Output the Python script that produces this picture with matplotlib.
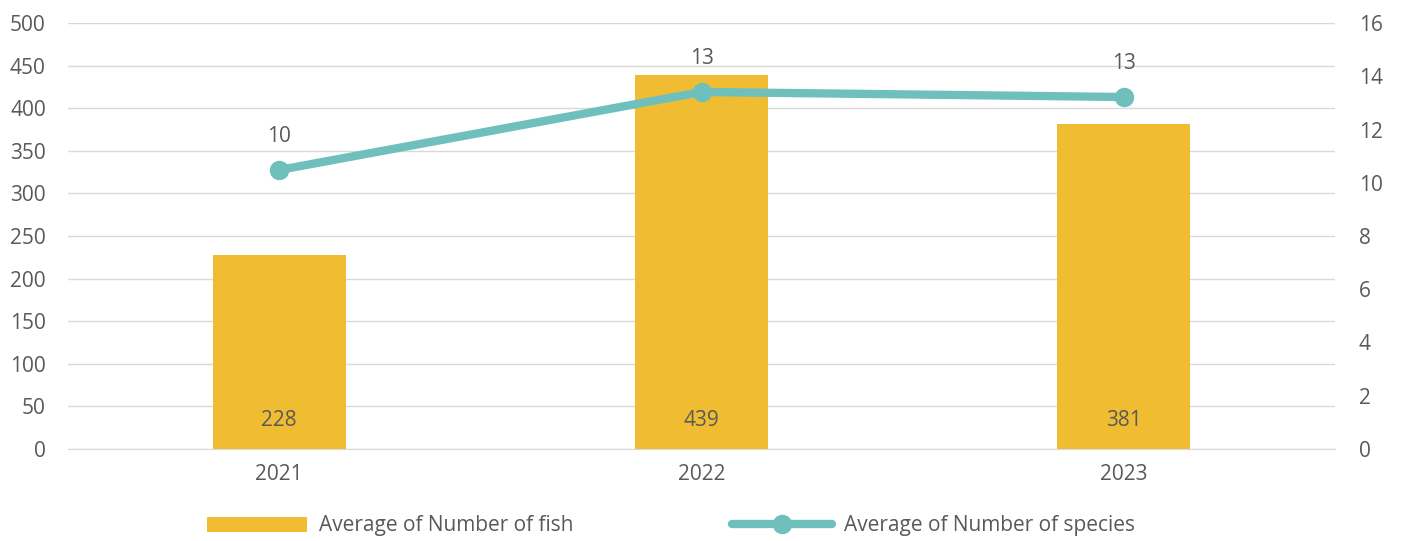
import matplotlib.pyplot as plt
import numpy as np

# datos
anios = ['2021', '2022', '2023']
promedio_peces = [228, 439, 381]
promedio_especies = [10.48, 13.41, 13.22]

plt.rcParams['font.family'] = ['Open Sans', 'DejaVu Sans']
gris = '#595959'
tam = 15

fig = plt.figure(figsize=(14.01, 5.41), dpi=100)
ax = fig.add_axes([68 / 1401, 1 - 449 / 541, 1267 / 1401, 426 / 541])
ax2 = ax.twinx()

x = np.arange(len(anios)) + 0.5
barras = ax.bar(x, promedio_peces, width=0.315, color='#F0BC32', zorder=2,
                label='Average of Number of fish')
for xi, v in zip(x, promedio_peces):
    ax.text(xi, 34, str(v), ha='center', va='center', fontsize=tam, color=gris, zorder=3)

linea, = ax2.plot(x, promedio_especies, color='#6FC0BD', lw=6, marker='o', ms=13,
                  solid_capstyle='round', zorder=4, label='Average of Number of species')
for xi, v in zip(x, promedio_especies):
    ax2.text(xi, v + 0.85, str(int(round(v))), ha='center', va='bottom', fontsize=tam, color=gris)

ax.set_xlim(0, 3)
ax.set_ylim(0, 500)
ax.set_yticks(range(0, 501, 50))
ax2.set_ylim(0, 16)
ax2.set_yticks(range(0, 17, 2))
ax.set_xticks(x)
ax.set_xticklabels(anios)

ax.grid(axis='y', color='#d9d9d9', lw=1, zorder=0)
ax.set_axisbelow(True)
for a in (ax, ax2):
    for s in a.spines.values():
        s.set_visible(False)
    a.tick_params(length=0, labelsize=tam, colors=gris)
ax.spines['bottom'].set_visible(True)
ax.spines['bottom'].set_color('#d9d9d9')
ax.tick_params(axis='x', pad=11)
ax.tick_params(axis='y', pad=16)
ax2.tick_params(axis='y', pad=17)

fig.legend([barras, linea], ['Average of Number of fish', 'Average of Number of species'],
           loc='center', bbox_to_anchor=(0.479, 1 - 526 / 541), ncol=2, frameon=False,
           fontsize=tam, labelcolor=gris, handlelength=4.8, columnspacing=7.6, handletextpad=0.6)

fig.savefig('out.png', dpi=100)
